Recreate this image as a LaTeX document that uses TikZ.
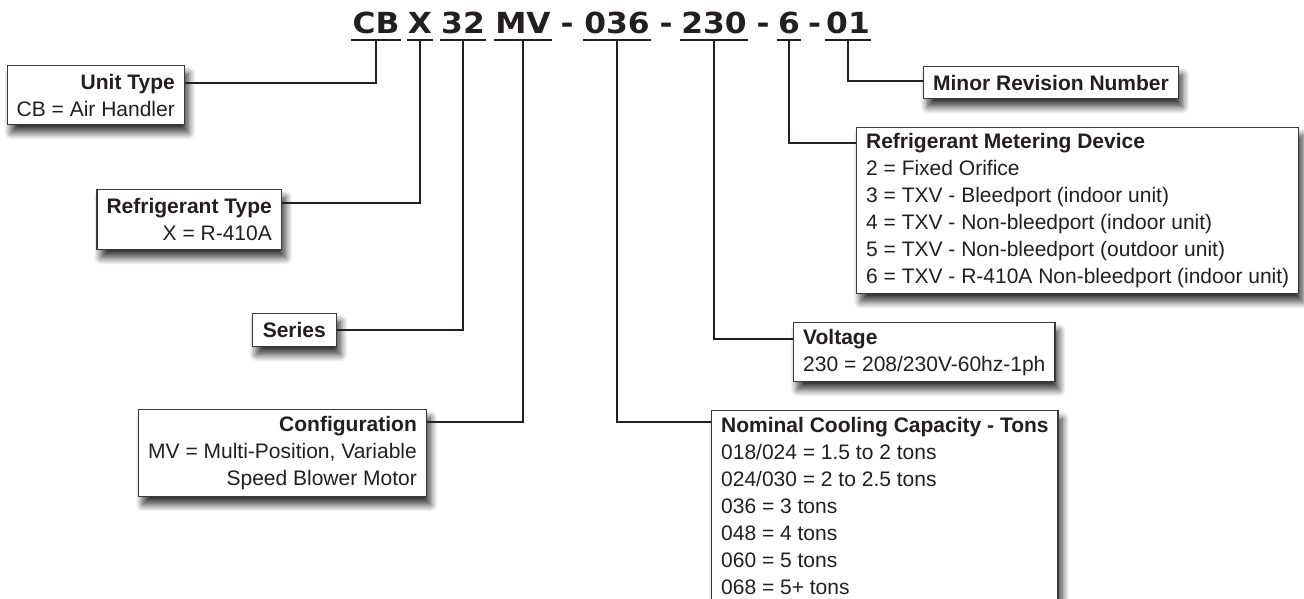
\documentclass[tikz,border=0pt]{standalone}
\usepackage{fontspec}
\setmainfont{Liberation Sans}
\newfontfamily\titlefont{DejaVu Sans}[FakeStretch=1.08]
\usetikzlibrary{shadows.blur}
\definecolor{ink}{HTML}{231F20}
\definecolor{frame}{HTML}{3A3A3A}
\begin{document}
\begin{tikzpicture}[x=1pt,y=-1pt,
  part/.style={font=\titlefont\bfseries\fontsize{29}{30}\selectfont, text=ink,
    inner xsep=1pt, inner ysep=0pt, text height=21pt, text depth=5.5pt, anchor=base},
  uline/.style={draw=ink, line width=2.2pt},
  conn/.style={draw=ink, line width=2pt},
  box/.style={draw=frame, line width=1.3pt, fill=white, text=ink,
    font=\fontsize{21}{27}\selectfont, inner xsep=9.5pt, inner ysep=0pt,
    blur shadow={shadow xshift=4pt, shadow yshift=-8pt, shadow blur radius=7pt,
      shadow blur steps=14, shadow opacity=80}},
]
\useasboundingbox (0,0) rectangle (1304,599);

% title parts
\node[part] (tcb) at (376,34) {CB};
\node[part] (tx) at (420,34) {X};
\node[part] (t32) at (463,34) {32};
\node[part] (tmv) at (523,34) {MV};
\node[part] (d1) at (567,34) {-};
\node[part] (t036) at (617,34) {036};
\node[part] (d2) at (666,34) {-};
\node[part] (t230) at (714,34) {230};
\node[part] (d3) at (763,34) {-};
\node[part] (t6) at (789,34) {6};
\node[part] (d4) at (814.5,34) {-};
\node[part] (t01) at (848,34) {01};
\foreach \p in {tcb,tx,t32,tmv,t036,t230,t6,t01}
  \draw[uline] (\p.south west) -- (\p.south east);

% boxes
\node[box, align=right, anchor=north east, minimum height=59pt] (unit) at (185,65)
  {\textbf{Unit Type}\\CB = Air Handler};
\node[box, align=right, anchor=north east, minimum height=60pt] (reft) at (282,189)
  {\textbf{Refrigerant Type}\\X = R-410A};
\node[box, anchor=north east, minimum height=33pt, inner xsep=10.5pt] (series) at (337,313)
  {\textbf{Series}};
\node[box, align=right, anchor=north east, minimum height=87pt] (config) at (427,409)
  {\textbf{Configuration}\\MV = Multi-Position, Variable\\Speed Blower Motor};
\node[box, anchor=north west, minimum height=32pt] (minor) at (923,66)
  {\textbf{Minor Revision Number}};
\node[box, align=left, anchor=north west, minimum height=166pt] (meter) at (856,127)
  {\textbf{Refrigerant Metering Device}\\2 = Fixed Orifice\\3 = TXV - Bleedport (indoor unit)\\4 = TXV - Non-bleedport (indoor unit)\\5 = TXV - Non-bleedport (outdoor unit)\\6 = TXV - R-410A Non-bleedport (indoor unit)};
\node[box, align=left, anchor=north west, minimum height=59pt] (volt) at (793,322)
  {\textbf{Voltage}\\230 = 208/230V-60hz-1ph};
\node[box, align=left, anchor=north west, minimum height=190pt] (nom) at (711,410)
  {\textbf{Nominal Cooling Capacity - Tons}\\018/024 = 1.5 to 2 tons\\024/030 = 2 to 2.5 tons\\036 = 3 tons\\048 = 4 tons\\060 = 5 tons\\068 = 5+ tons};

% connectors
\draw[conn] (tcb.south) |- ([yshift=-18pt]unit.north east);
\draw[conn] (tx.south) |- ([yshift=-14pt]reft.north east);
\draw[conn] (t32.south) |- ([yshift=-17pt]series.north east);
\draw[conn] (tmv.south) |- ([yshift=-13pt]config.north east);
\draw[conn] (t036.south) |- ([yshift=-12pt]nom.north west);
\draw[conn] (t230.south) |- ([yshift=-17pt]volt.north west);
\draw[conn] (t6.south) |- ([yshift=-16pt]meter.north west);
\draw[conn] (t01.south) |- ([yshift=-15pt]minor.north west);
\end{tikzpicture}
\end{document}
